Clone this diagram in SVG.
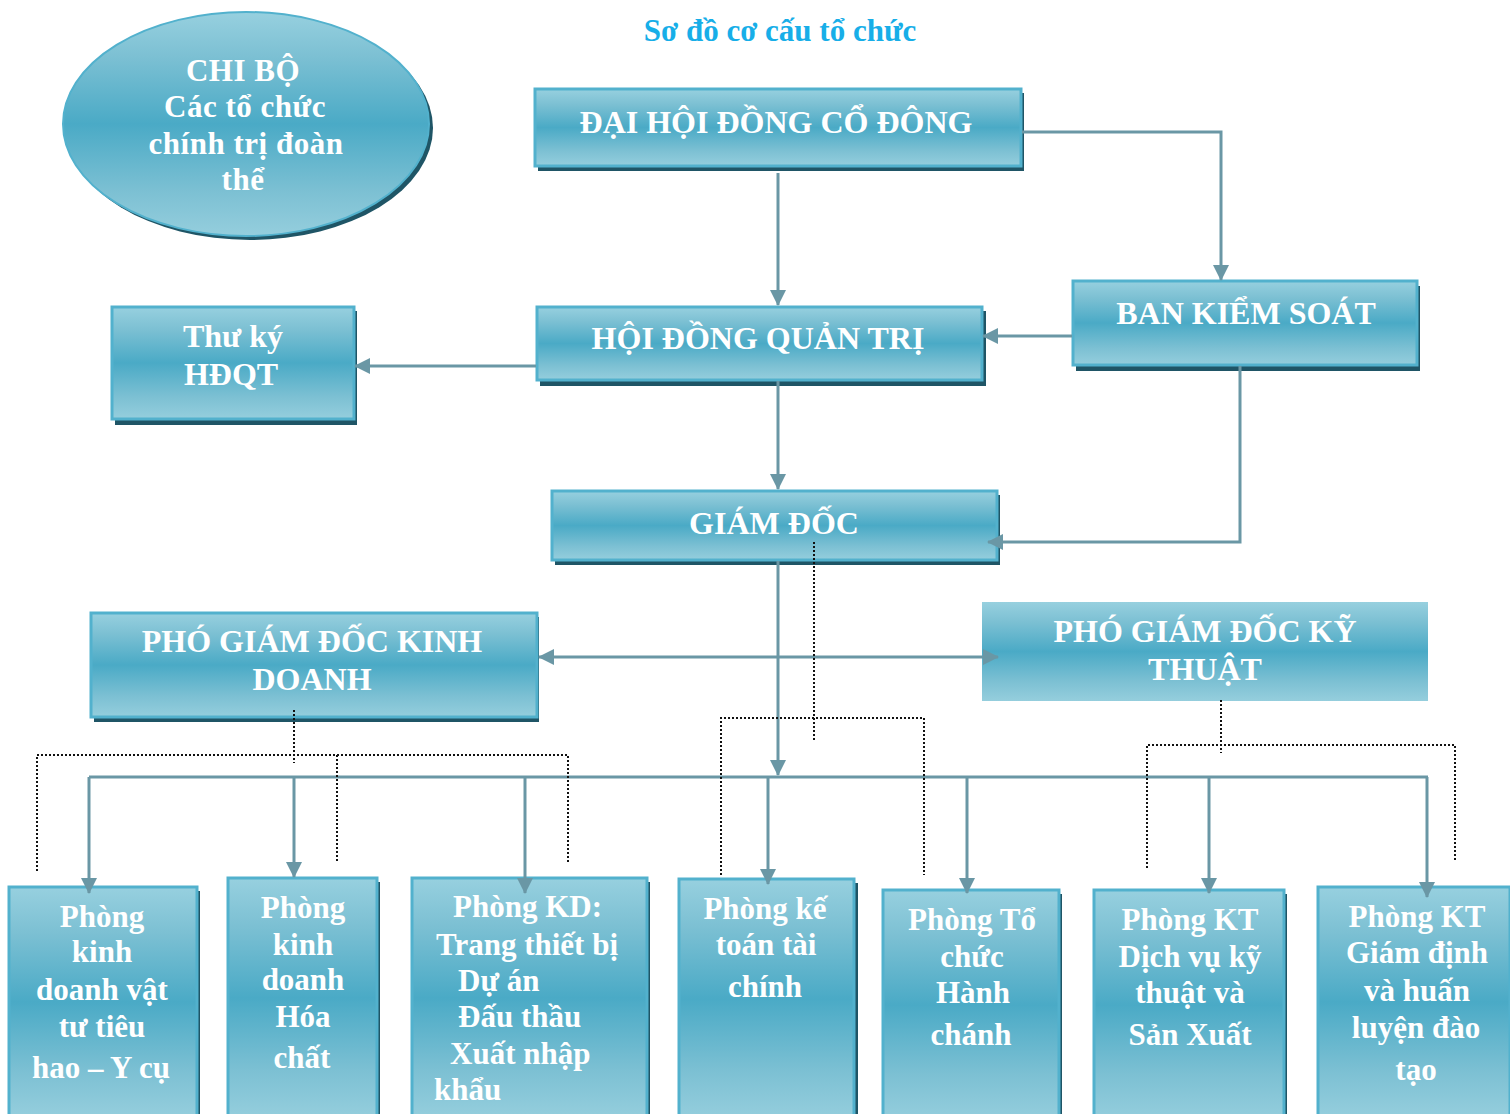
<svg xmlns="http://www.w3.org/2000/svg" width="1510" height="1114" viewBox="0 0 1510 1114">
<defs>
<linearGradient id="g" x1="0" y1="0" x2="0" y2="1">
<stop offset="0" stop-color="#97d0df"/>
<stop offset="0.2" stop-color="#7cc0d3"/>
<stop offset="0.5" stop-color="#4aaac6"/>
<stop offset="0.8" stop-color="#7cc0d3"/>
<stop offset="1" stop-color="#95cedd"/>
</linearGradient>
<marker id="ah" viewBox="0 0 16 16" refX="15" refY="8" markerWidth="16" markerHeight="16" markerUnits="userSpaceOnUse" orient="auto-start-reverse">
<path d="M0,0 L16,8 L0,16 z" fill="#6a97a5"/>
</marker>
<style>
.box{fill:url(#g);stroke:#52b1cd;stroke-width:3}
.sh{fill:#1f5566}
.t{font-family:"Liberation Serif","Times New Roman",serif;font-weight:bold;fill:#ffffff;text-anchor:middle}
.h{font-size:32px}
.e{font-size:31px;letter-spacing:0.5px}
.b{font-size:31px}
.tl{text-anchor:start}
.c{fill:none;stroke:#6a97a5;stroke-width:3}
.d{fill:none;stroke:#111;stroke-width:2;stroke-dasharray:2 2}
</style>
</defs>
<rect width="1510" height="1114" fill="#ffffff"/>
<text x="780" y="41" style="font-family:'Liberation Serif','Times New Roman',serif;font-weight:bold;font-size:31px;fill:#17aee8;text-anchor:middle">Sơ đồ cơ cấu tổ chức</text>

<g id="chibo">
<ellipse cx="250" cy="128" rx="183" ry="112" class="sh"/>
<ellipse cx="246" cy="124" rx="183" ry="112" fill="url(#g)" stroke="#52b1cd" stroke-width="2"/>
<text class="t e" x="243" y="81">CHI BỘ</text>
<text class="t e" x="245" y="117">Các tổ chức</text>
<text class="t e" x="246" y="154">chính trị đoàn</text>
<text class="t e" x="243" y="190">thể</text>
</g>

<g id="dhdcd">
<rect class="sh" x="538" y="93" width="486" height="78"/>
<rect class="box" x="535" y="89" width="486" height="77"/>
<text class="t h" x="776" y="133">ĐẠI HỘI ĐỒNG CỔ ĐÔNG</text>
</g>

<g id="hdqt">
<rect class="sh" x="540" y="311" width="446" height="75"/>
<rect class="box" x="537" y="307" width="445" height="73"/>
<text class="t h" x="758" y="349">HỘI ĐỒNG QUẢN TRỊ</text>
</g>

<g id="bks">
<rect class="sh" x="1076" y="286" width="344" height="85"/>
<rect class="box" x="1073" y="281" width="344" height="84"/>
<text class="t h" x="1246" y="324">BAN KIỂM SOÁT</text>
</g>

<g id="thuky">
<rect class="sh" x="115" y="311" width="242" height="114"/>
<rect class="box" x="112" y="307" width="242" height="112"/>
<text class="t h" x="233" y="347">Thư ký</text>
<text class="t h" x="231" y="385">HĐQT</text>
</g>

<g id="giamdoc">
<rect class="sh" x="555" y="495" width="445" height="70"/>
<rect class="box" x="552" y="491" width="445" height="69"/>
<text class="t h" x="774" y="534">GIÁM ĐỐC</text>
</g>

<g id="pgdkd">
<rect class="sh" x="94" y="617" width="445" height="105"/>
<rect class="box" x="91" y="613" width="446" height="104"/>
<text class="t h" x="312" y="652">PHÓ GIÁM ĐỐC KINH</text>
<text class="t h" x="312" y="690">DOANH</text>
</g>

<g id="pgdkt">
<rect x="982" y="602" width="446" height="99" fill="url(#g)"/>
<text class="t h" x="1205" y="642">PHÓ GIÁM ĐỐC KỸ</text>
<text class="t h" x="1205" y="680">THUẬT</text>
</g>

<g id="p1">
<rect class="sh" x="12" y="891" width="188" height="230"/>
<rect class="box" x="9" y="887" width="188" height="230"/>
<text class="t b" x="102" y="927">Phòng</text>
<text class="t b" x="102" y="962">kinh</text>
<text class="t b" x="102" y="1000">doanh vật</text>
<text class="t b" x="102" y="1037">tư tiêu</text>
<text class="t b" x="101" y="1078">hao – Y cụ</text>
</g>

<g id="p2">
<rect class="sh" x="231" y="882" width="149" height="240"/>
<rect class="box" x="228" y="878" width="149" height="240"/>
<text class="t b" x="303" y="918">Phòng</text>
<text class="t b" x="303" y="955">kinh</text>
<text class="t b" x="303" y="990">doanh</text>
<text class="t b" x="303" y="1027">Hóa</text>
<text class="t b" x="302" y="1068">chất</text>
</g>

<g id="p3">
<rect class="sh" x="415" y="882" width="235" height="240"/>
<rect class="box" x="412" y="878" width="235" height="240"/>
<text class="t b tl" x="453" y="917">Phòng KD:</text>
<text class="t b tl" x="436" y="955">Trang thiết bị</text>
<text class="t b tl" x="458" y="991">Dự án</text>
<text class="t b tl" x="458" y="1027">Đấu thầu</text>
<text class="t b tl" x="450" y="1064">Xuất nhập</text>
<text class="t b tl" x="434" y="1100">khẩu</text>
</g>

<g id="p4">
<rect class="sh" x="682" y="883" width="176" height="240"/>
<rect class="box" x="679" y="879" width="175" height="240"/>
<text class="t b" x="765" y="919">Phòng kế</text>
<text class="t b" x="766" y="955">toán tài</text>
<text class="t b" x="765" y="997">chính</text>
</g>

<g id="p5">
<rect class="sh" x="886" y="894" width="176" height="230"/>
<rect class="box" x="883" y="890" width="176" height="230"/>
<text class="t b" x="972" y="930">Phòng Tổ</text>
<text class="t b" x="972" y="967">chức</text>
<text class="t b" x="973" y="1003">Hành</text>
<text class="t b" x="971" y="1045">chánh</text>
</g>

<g id="p6">
<rect class="sh" x="1097" y="894" width="190" height="230"/>
<rect class="box" x="1094" y="890" width="190" height="230"/>
<text class="t b" x="1190" y="930">Phòng KT</text>
<text class="t b" x="1190" y="967">Dịch vụ kỹ</text>
<text class="t b" x="1190" y="1003">thuật và</text>
<text class="t b" x="1190" y="1045">Sản Xuất</text>
</g>

<g id="p7">
<rect class="sh" x="1321" y="891" width="192" height="230"/>
<rect class="box" x="1318" y="887" width="192" height="230"/>
<text class="t b" x="1417" y="927">Phòng KT</text>
<text class="t b" x="1417" y="963">Giám định</text>
<text class="t b" x="1417" y="1001">và huấn</text>
<text class="t b" x="1416" y="1038">luyện đào</text>
<text class="t b" x="1416" y="1080">tạo</text>
</g>

<g id="connectors">
<path class="c" d="M778,173 V305" marker-end="url(#ah)"/>
<path class="c" d="M1022,132 H1221 V280" marker-end="url(#ah)"/>
<path class="c" d="M1072,336 H983" marker-end="url(#ah)"/>
<path class="c" d="M536,366 H355" marker-end="url(#ah)"/>
<path class="c" d="M778,381 V489" marker-end="url(#ah)"/>
<path class="c" d="M1240,366 V542 H988" marker-end="url(#ah)"/>
<path class="c" d="M778,561 V775" marker-end="url(#ah)"/>
<path class="c" d="M539,657 H998" marker-start="url(#ah)" marker-end="url(#ah)"/>
<path class="c" d="M89,777 H1428"/>
<path class="c" d="M89,777 V893" marker-end="url(#ah)"/>
<path class="c" d="M294,777 V877" marker-end="url(#ah)"/>
<path class="c" d="M525,777 V893" marker-end="url(#ah)"/>
<path class="c" d="M768,777 V884" marker-end="url(#ah)"/>
<path class="c" d="M967,777 V893" marker-end="url(#ah)"/>
<path class="c" d="M1209,777 V893" marker-end="url(#ah)"/>
<path class="c" d="M1427,777 V897" marker-end="url(#ah)"/>
<path class="d" d="M294,710 V763 M37,871 V755 H568 V863 M337,755 V863"/>
<path class="d" d="M814,542 V740 M721,875 V718 H924 V875"/>
<path class="d" d="M1221,700 V753 M1147,868 V745 H1455 V861"/>
</g>
</svg>
